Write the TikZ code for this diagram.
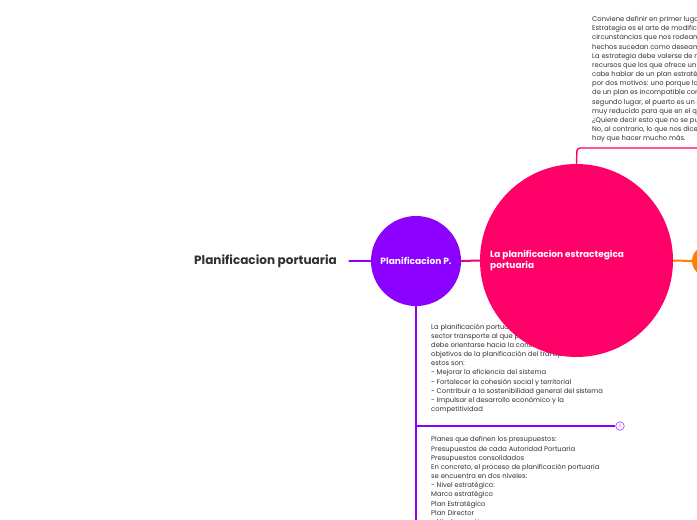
\documentclass[tikz,border=0pt]{standalone}
\usepackage{fontspec}
\setmainfont{Poppins}
\usetikzlibrary{positioning}
\definecolor{mapviolet}{RGB}{140,0,255}
\definecolor{mappink}{RGB}{255,0,104}
\definecolor{maporange}{RGB}{255,128,0}
\definecolor{maptext}{RGB}{50,50,50}

\begin{document}
\begin{tikzpicture}[x=1bp,y=-1bp,
    bubble/.style={circle, inner sep=0pt, font=\bfseries\fontsize{9.1}{11}\selectfont, text=white},
    notes/.style={anchor=north west, inner sep=0pt, align=left, text=maptext,
        font=\fontsize{6.8}{9.2}\selectfont},
    branch/.style={line width=2.4bp, line cap=round},
    twig/.style={line width=1.4bp, rounded corners=3bp}
]
\useasboundingbox[fill=white] (0,0) rectangle (697,520);

% texts first, the big circle hides part of one
\node[notes] (topnote) at (592,16) {Conviene definir en primer lugar qué es la planificación.\\
Estrategia es el arte de modificar las circunstancias\\
circunstancias que nos rodean en el sentido de que los\\
hechos sucedan como deseamos que sucedan.\\
La estrategia debe valerse de más medios y\\
recursos que los que ofrece un plan, por eso no\\
cabe hablar de un plan estratégico portuario\\
por dos motivos: uno porque la rigidez propia\\
de un plan es incompatible con la estrategia, y en\\
segundo lugar, el puerto es un ámbito demasiado\\
muy reducido para que en el quepa una estrategia.\\
¿Quiere decir esto que no se puede planificar?\\
No, al contrario, lo que nos dice es que\\
hay que hacer mucho más.};

\node[notes] (noteA) at (431,323.5) {La planificación portuaria, como parte del\\
sector transporte al que pertenece, también\\
debe orientarse hacia la consecución de los\\
objetivos de la planificación del transporte,\\
estos son:\\
- Mejorar la eficiencia del sistema\\
- Fortalecer la cohesión social y territorial\\
- Contribuir a la sostenibilidad general del sistema\\
- Impulsar el desarrollo económico y la\\
competitividad};

\node[notes] (noteB) at (431,436.5) {Planes que definen los presupuestos:\\
Presupuestos de cada Autoridad Portuaria\\
Presupuestos consolidados\\
En concreto, el proceso de planificación portuaria\\
se encuentra en dos niveles:\\
- Nivel estratégico:\\
Marco estratégico\\
Plan Estratégico\\
Plan Director\\
- Nivel operativo:};

% main topic and bubbles
\node[font=\bfseries\fontsize{12.1}{14}\selectfont, text=maptext] (title) at (265.5,261) {Planificacion portuaria};
\node[bubble, fill=mapviolet, minimum size=90bp] (planp) at (416,261) {Planificacion P.};
\node[bubble, fill=mappink, minimum size=193bp] (estrat) at (576.5,260.5) {};
\node[anchor=west, align=left, inner sep=0pt, text=white,
    font=\bfseries\fontsize{9}{11.5}\selectfont] (estratlbl) at (490,260.5)
    {La planificacion estractegica\\portuaria};
\node[circle, fill=maporange, minimum size=30bp, inner sep=0pt] (orangeb) at (707,261) {};
\node[circle, draw=mapviolet!70, fill=white, line width=0.7bp, minimum size=8.5bp, inner sep=0pt,
    text=mapviolet!70, font=\fontsize{4.5}{5}\selectfont] (num2) at (620,426) {2};

% connectors
\draw[branch, mapviolet] (title.east) ++(9,0) -- (planp.west);
\draw[line width=2bp, mappink!85!mapviolet] (planp.east) -- (estrat.west);
\draw[line width=2bp, maporange] (estrat.east) -- (orangeb.west);
\draw[branch, mapviolet, line cap=butt] (planp.south) -- (416,520);
\draw[twig, mapviolet] (416,426) -- (num2.west);
\draw[twig, mappink] (estrat.north) -- (577,148) -- (697,148);
\end{tikzpicture}
\end{document}
